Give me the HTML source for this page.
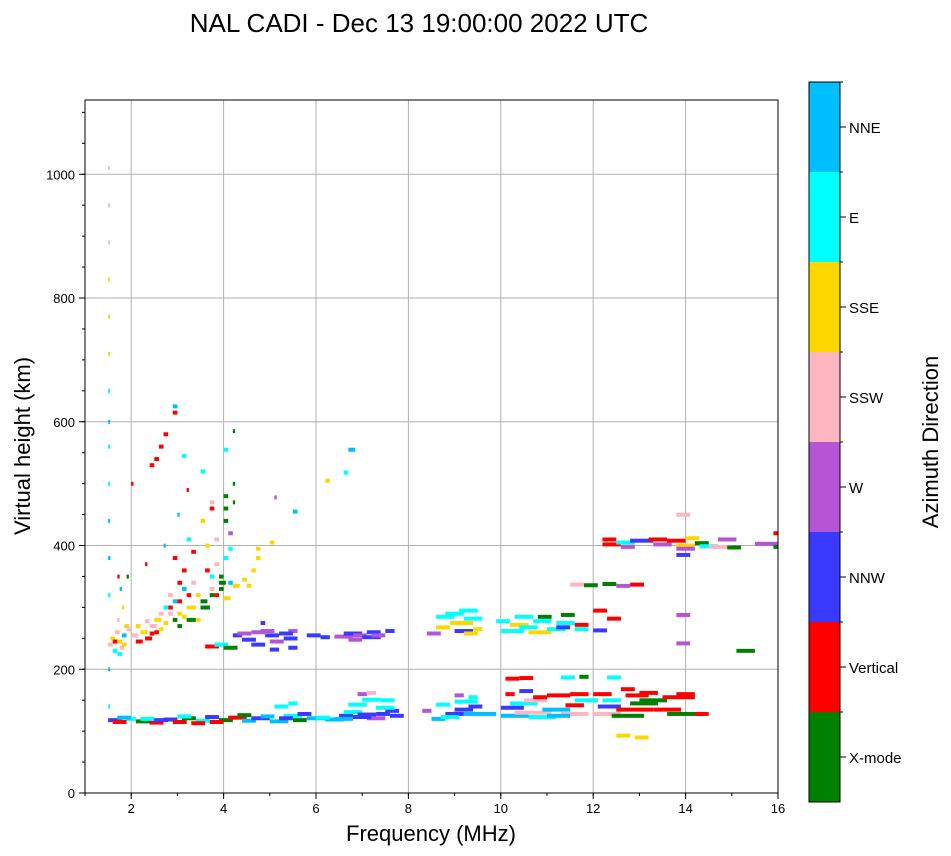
<!DOCTYPE html>
<html><head><meta charset="utf-8">
<style>
body{margin:0;background:#fff;font-family:"Liberation Sans",sans-serif;}
svg{display:block}
text{font-family:"Liberation Sans",sans-serif;fill:#000}
</style></head>
<body>
<svg id="c" width="951" height="856">
<defs><clipPath id="pc"><rect x="85" y="100" width="693" height="693"/></clipPath></defs>
<text x="419" y="32" font-size="26" text-anchor="middle">NAL CADI - Dec 13 19:00:00 2022 UTC</text>
<g id="grid"></g>
<g id="marks" clip-path="url(#pc)"></g>
<rect x="85" y="100" width="693" height="693" fill="none" stroke="#000" stroke-width="1"/>
<g id="axes"></g>
<text x="431" y="841" font-size="22" text-anchor="middle">Frequency (MHz)</text>
<text transform="translate(30,446) rotate(-90)" font-size="22" text-anchor="middle">Virtual height (km)</text>
<g id="cbar"></g>
<text transform="translate(938,442) rotate(-90)" font-size="22" text-anchor="middle">Azimuth Direction</text>
</svg>
<script>
const xTicks=[2,4,6,8,10,12,14,16];
const yTicks=[0,200,400,600,800,1000];
const dirLabels=["X-mode","Vertical","NNW","W","SSW","SSE","E","NNE"];
const dirColors=["#008000","#ff0000","#3a3aff","#b555d6","#ffb6c1","#ffd700","#00ffff","#00bfff"];
// [freq MHz, height km, width MHz, direction index]
const eLayer=[[1.5,118,0.3,2],[1.6,115,0.3,1],[1.9,120,0.2,6],[2.1,116,0.4,0],[2.4,114,0.3,1],[2.7,119,0.3,2],[2.9,115,0.3,1],[3.1,121,0.3,0],[3.4,117,0.3,6],[3.6,123,0.3,2],[3.9,118,0.3,0],[4.1,122,0.4,1],[4.4,117,0.3,7],[4.6,121,0.4,2],[5.0,116,0.4,7],[5.3,125,0.4,6],[5.5,118,0.3,0],[5.8,121,0.4,7],[6.2,119,0.4,7],[6.5,125,0.3,2],[6.6,131,0.4,6],[6.9,127,0.4,2],[7.1,121,0.4,3],[7.3,128,0.3,2],[7.5,133,0.3,2],[5.1,140,0.3,6],[5.4,145,0.2,6],[6.7,143,0.4,6],[7.0,151,0.4,6],[7.4,150,0.3,6],[6.9,160,0.2,3],[7.1,162,0.2,4],[8.5,120,0.3,7],[8.8,128,0.4,2],[9.0,135,0.4,2],[9.2,128,0.5,7],[8.6,143,0.3,6],[9.0,148,0.5,6],[8.3,133,0.2,3],[9.0,158,0.2,3],[9.3,155,0.2,6],[10.0,125,0.6,7],[10.3,130,0.8,4],[10.6,123,0.6,6],[10.0,138,0.5,2],[10.2,145,0.6,6],[10.5,150,0.5,4],[10.1,160,0.2,1],[10.7,155,0.3,1],[11.0,158,0.5,1],[10.9,135,0.6,7],[11.3,128,0.6,4],[11.4,142,0.4,1],[11.6,150,0.5,6],[11.5,160,0.4,1],[11.3,187,0.3,6],[11.7,188,0.2,0],[10.1,185,0.3,1],[10.4,186,0.3,1],[12.0,128,0.6,4],[12.1,140,0.5,2],[12.2,150,0.4,6],[12.0,160,0.4,1],[12.3,187,0.3,6],[12.4,125,0.7,0],[12.5,135,0.8,1],[12.8,145,0.6,0],[12.7,158,0.5,1],[12.6,168,0.3,1],[13.0,150,0.6,0],[13.0,162,0.4,1],[13.3,135,0.6,1],[13.5,155,0.7,1],[13.8,160,0.4,1],[13.6,128,0.8,0],[14.2,128,0.3,1],[12.5,93,0.3,5],[12.9,90,0.3,5],[1.7,122,0.3,7],[2.2,120,0.3,6],[2.5,118,0.3,2],[3.0,124,0.3,6],[3.3,113,0.3,1],[3.7,115,0.3,1],[4.3,126,0.3,0],[4.8,124,0.3,7],[5.2,121,0.3,2],[5.6,128,0.3,2],[6.0,122,0.3,6],[6.4,120,0.4,7],[6.8,123,0.4,2],[7.3,138,0.4,6],[7.6,125,0.3,2],[9.3,140,0.3,2],[8.7,123,0.4,6],[9.6,128,0.3,7],[10.4,165,0.3,2],[11.0,125,0.5,7]];
const fLayer=[[3.6,237,0.3,1],[3.8,240,0.3,6],[4.0,235,0.3,0],[4.2,255,0.2,2],[4.3,258,0.3,3],[4.6,260,0.3,3],[4.6,240,0.3,2],[4.9,255,0.3,2],[5.0,245,0.3,3],[5.0,232,0.2,2],[5.3,250,0.3,2],[5.4,262,0.2,3],[5.4,235,0.2,2],[5.8,255,0.3,2],[6.1,252,0.2,2],[6.4,253,0.4,3],[6.6,258,0.4,2],[6.8,255,0.3,3],[7.0,252,0.4,2],[7.1,260,0.3,2],[7.5,262,0.2,2],[8.4,258,0.3,3],[8.6,268,0.3,5],[8.6,285,0.4,6],[8.9,275,0.5,5],[9.0,262,0.4,2],[9.1,295,0.4,6],[9.2,282,0.4,6],[9.4,265,0.2,5],[9.9,278,0.3,6],[10.0,262,0.5,6],[10.2,272,0.4,5],[10.3,285,0.4,6],[10.6,260,0.5,5],[10.7,278,0.4,6],[11.0,265,0.4,6],[11.2,275,0.4,6],[11.3,288,0.3,0],[11.6,272,0.3,1],[11.6,265,0.3,6],[12.0,263,0.3,2],[12.0,295,0.3,1],[12.3,282,0.3,1],[11.5,337,0.3,4],[11.8,336,0.3,0],[12.2,338,0.3,0],[12.5,335,0.3,3],[12.8,337,0.3,1],[13.8,288,0.3,3],[13.8,242,0.3,3],[15.1,230,0.4,0],[4.4,248,0.3,2],[4.8,262,0.3,3],[5.2,258,0.3,2],[6.7,248,0.3,3],[7.2,255,0.3,3],[8.8,290,0.4,6],[9.2,258,0.3,5],[10.4,268,0.4,6],[10.8,285,0.3,0],[11.2,268,0.3,2]];
const topLayer=[[12.2,410,0.3,1],[12.2,402,0.4,1],[12.5,405,0.4,6],[12.6,398,0.3,3],[12.8,408,0.5,2],[13.2,410,0.4,1],[13.3,402,0.4,3],[13.6,408,0.4,1],[13.8,400,0.4,5],[13.8,395,0.4,3],[13.8,385,0.3,2],[14.0,412,0.3,5],[14.2,404,0.3,0],[14.3,399,0.4,6],[14.5,398,0.5,4],[14.7,410,0.4,3],[14.9,397,0.3,0],[15.5,403,0.6,3],[15.9,398,0.3,0],[15.9,420,0.2,1],[13.8,450,0.3,4]];
const spread=[[1.5,240,0.1,4],[1.55,250,0.1,5],[1.6,230,0.1,6],[1.65,260,0.1,4],[1.7,245,0.1,5],[1.75,235,0.1,4],[1.8,255,0.1,7],[1.85,270,0.1,5],[1.7,280,0.05,4],[1.8,300,0.05,5],[1.75,330,0.05,7],[1.7,350,0.05,1],[1.9,350,0.05,0],[1.5,320,0.05,6],[1.5,380,0.05,7],[1.5,440,0.03,7],[1.5,500,0.03,6],[1.5,560,0.03,6],[1.5,600,0.03,7],[1.5,650,0.03,6],[1.5,710,0.03,5],[1.5,770,0.03,5],[1.5,830,0.03,5],[1.5,890,0.03,4],[1.5,950,0.03,4],[1.5,1010,0.03,4],[1.5,200,0.03,7],[1.5,140,0.03,6],[2.0,255,0.15,4],[2.1,245,0.15,1],[2.2,260,0.15,5],[2.3,250,0.15,1],[2.4,270,0.15,4],[2.5,280,0.15,5],[2.5,260,0.1,1],[2.6,290,0.1,4],[2.7,275,0.1,5],[2.8,300,0.1,1],[2.8,320,0.1,4],[2.9,310,0.1,7],[2.9,280,0.1,0],[3.0,340,0.1,1],[3.0,290,0.1,5],[3.1,330,0.1,7],[3.1,360,0.1,1],[3.2,300,0.1,5],[3.2,280,0.2,0],[3.3,390,0.1,1],[3.3,340,0.1,4],[3.4,320,0.1,5],[3.5,300,0.2,0],[3.6,360,0.1,1],[3.7,330,0.1,4],[3.7,350,0.1,6],[3.8,320,0.1,1],[3.9,340,0.15,0],[4.0,315,0.15,5],[4.1,340,0.1,7],[4.2,335,0.15,5],[4.0,380,0.1,6],[4.1,420,0.1,3],[4.0,460,0.1,0],[4.0,480,0.1,0],[4.2,500,0.05,0],[4.2,585,0.05,0],[4.0,555,0.1,6],[3.8,410,0.1,4],[3.7,460,0.1,1],[3.5,520,0.1,6],[3.5,440,0.1,5],[3.2,490,0.05,1],[3.1,545,0.1,6],[2.9,615,0.1,1],[2.9,625,0.1,7],[2.7,580,0.1,1],[2.6,560,0.1,1],[2.5,540,0.1,1],[2.4,530,0.1,1],[2.0,500,0.05,1],[2.7,400,0.05,7],[2.3,370,0.05,1],[4.6,360,0.1,5],[4.7,395,0.1,5],[4.4,345,0.1,5],[5.0,405,0.1,5],[5.5,455,0.1,7],[5.1,478,0.05,3],[6.7,555,0.15,7],[6.6,518,0.1,6],[6.2,505,0.1,5],[4.8,275,0.1,2],[1.6,245,0.1,1],[1.7,225,0.1,6],[1.8,240,0.1,5],[1.9,265,0.1,4],[2.1,270,0.1,5],[2.3,278,0.1,4],[2.4,258,0.1,1],[2.6,265,0.1,5],[2.7,300,0.1,6],[2.8,290,0.1,4],[3.0,310,0.1,1],[3.0,270,0.1,0],[3.1,285,0.1,5],[3.2,320,0.1,1],[3.3,300,0.1,5],[3.4,280,0.1,5],[3.5,310,0.15,0],[3.6,300,0.1,0],[3.7,320,0.1,0],[3.9,330,0.1,0],[3.9,350,0.1,0],[3.8,370,0.1,4],[4.1,395,0.1,6],[4.0,440,0.1,0],[4.2,470,0.05,0],[3.7,470,0.1,4],[3.2,410,0.1,6],[3.0,450,0.05,7],[2.9,380,0.1,1],[3.6,400,0.1,5],[4.7,380,0.1,5],[4.5,335,0.1,5]];
const layers=[eLayer,fLayer,topLayer,spread];
const X=f=>85+(f-1)*(693/15);
const Y=h=>793-h*(693/1120);
const NS="http://www.w3.org/2000/svg";
function mk(tag,attrs,parent){const e=document.createElementNS(NS,tag);for(const k in attrs)e.setAttribute(k,attrs[k]);parent.appendChild(e);return e;}
const grid=document.getElementById('grid'),axes=document.getElementById('axes'),marks=document.getElementById('marks'),cbar=document.getElementById('cbar');
xTicks.forEach(t=>{const x=X(t);
 if(t<16){const g=mk('line',{x1:x,x2:x,y1:100,y2:793,stroke:'#b0b0b0','stroke-width':1},grid);
 
 }
 mk('line',{x1:x,x2:x,y1:793,y2:799,stroke:'#000'},axes);
 const tx=mk('text',{x:x,y:813,'font-size':13,'text-anchor':'middle'},axes);tx.textContent=t;
 
 });
for(let m=1;m<=16;m++){mk('line',{x1:X(m),x2:X(m),y1:793,y2:796,stroke:'#000'},axes);}
yTicks.forEach(t=>{const y=Y(t);
 if(t>0){const g=mk('line',{x1:85,x2:778,y1:y,y2:y,stroke:'#b0b0b0','stroke-width':1},grid);
 
 }
 mk('line',{x1:79,x2:85,y1:y,y2:y,stroke:'#000'},axes);
 const tx=mk('text',{x:75,y:y+5,'font-size':13,'text-anchor':'end'},axes);tx.textContent=t;
 
 });
for(let h=0;h<=1100;h+=50){mk('line',{x1:82,x2:85,y1:Y(h),y2:Y(h),stroke:'#000'},axes);}
layers.forEach(L=>L.forEach(p=>{
 const r=mk('rect',{x:X(p[0]),y:Y(p[1]+3),width:Math.max(2,p[2]*693/15),height:4,fill:dirColors[p[3]]},marks);
 
 
}));
const segH=720/8;
dirLabels.forEach((lab,i)=>{const y0=802-(i+1)*segH;
 const r=mk('rect',{x:809,y:y0,width:31,height:segH,fill:dirColors[i]},cbar);
 
 
 mk('line',{x1:840,x2:846,y1:y0+segH/2,y2:y0+segH/2,stroke:'#000'},cbar);
 mk('line',{x1:840,x2:843,y1:y0,y2:y0,stroke:'#000'},cbar);
 const t=mk('text',{x:849,y:y0+segH/2+6,'font-size':15},cbar);t.textContent=lab;
 
 });
mk('rect',{x:809,y:82,width:31,height:720,fill:'none',stroke:'#000'},cbar);
</script>
</body></html>
